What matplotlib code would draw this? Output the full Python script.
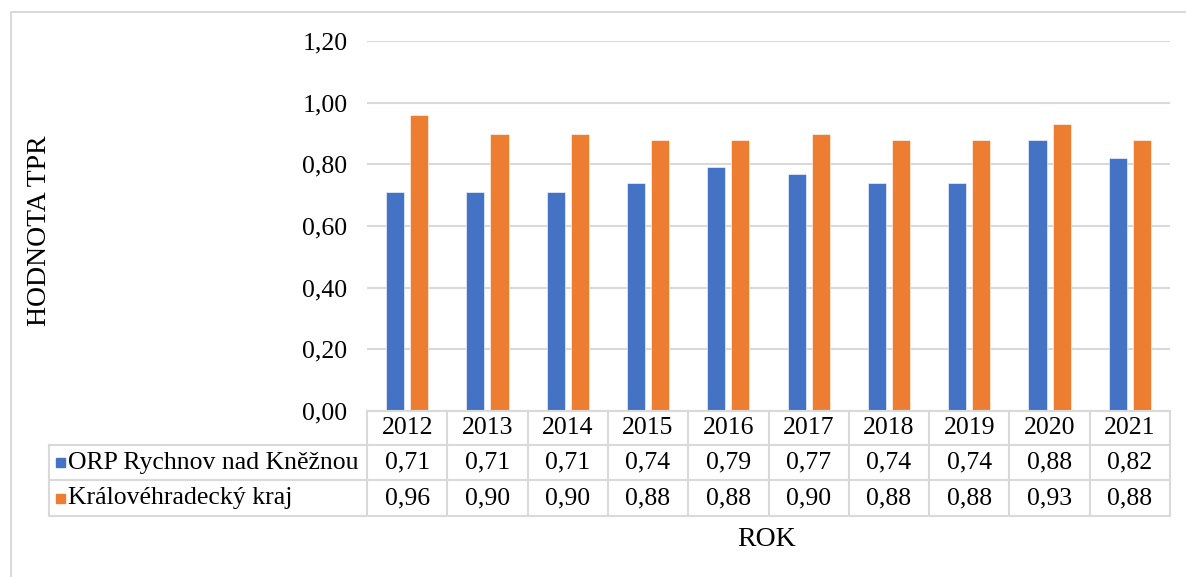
import numpy as np
import matplotlib.pyplot as plt
from matplotlib.lines import Line2D
from matplotlib.patches import Rectangle

# data
years = ['2012', '2013', '2014', '2015', '2016', '2017', '2018', '2019', '2020', '2021']
orp = [0.71, 0.71, 0.71, 0.74, 0.79, 0.77, 0.74, 0.74, 0.88, 0.82]
kraj = [0.96, 0.90, 0.90, 0.88, 0.88, 0.90, 0.88, 0.88, 0.93, 0.88]
series_names = ['ORP Rychnov nad Kněžnou', 'Královéhradecký kraj']
colors = ['#4472C4', '#ED7D31']
yticks = np.arange(0, 1.21, 0.2)

plt.rcParams['font.family'] = ['Liberation Serif', 'DejaVu Serif']

W, H = 1186, 577
fig = plt.figure(figsize=(W / 100, H / 100), dpi=100)


# pixel -> figure fraction
def fx(x):
    return x / W


def fy(y):
    return 1 - y / H


GRID = '#d9d9d9'
FS = 18.5
FS_TITLE = 20
left, right, top, bottom = 367, 1170, 41, 411

ax = fig.add_axes([fx(left), fy(bottom), (right - left) / W, (bottom - top) / H])
x = np.arange(len(years))
w = 0.225
ax.bar(x - 0.15, orp, w, color=colors[0], edgecolor='white', linewidth=0.4)
ax.bar(x + 0.15, kraj, w, color=colors[1], edgecolor='white', linewidth=0.4)
ax.set_xlim(-0.5, len(years) - 0.5)
ax.set_ylim(0, 1.2)
ax.set_yticks(yticks)
ax.set_yticklabels([f'{v:.2f}'.replace('.', ',') for v in yticks], fontsize=FS)
ax.tick_params(axis='y', length=0, pad=14)
ax.set_xticks([])
for s in ax.spines.values():
    s.set_visible(False)
ax.grid(axis='y', color=GRID, lw=1.5)
ax.set_axisbelow(True)


def hline(y, x0, x1):
    fig.add_artist(Line2D([fx(x0), fx(x1)], [fy(y), fy(y)], color=GRID, lw=1.5))


def vline(x, y0, y1):
    fig.add_artist(Line2D([fx(x), fx(x)], [fy(y0), fy(y1)], color=GRID, lw=1.5))


# data table
colw = (right - left) / len(years)
rows = [411, 445, 480, 516]
tab_left = 49
hline(rows[0], left, right)
for r in rows[1:]:
    hline(r, tab_left, right)
vline(tab_left, rows[1], rows[3])
for i in range(len(years) + 1):
    vline(left + i * colw, rows[0], rows[3])

for i, yr in enumerate(years):
    cx = left + (i + 0.5) * colw
    fig.text(fx(cx), fy((rows[0] + rows[1]) / 2), yr, ha='center', va='center', fontsize=FS)
    for j, vals in enumerate([orp, kraj]):
        cy = (rows[j + 1] + rows[j + 2]) / 2
        fig.text(fx(cx), fy(cy), f'{vals[i]:.2f}'.replace('.', ','),
                 ha='center', va='center', fontsize=FS)

for j, name in enumerate(series_names):
    cy = (rows[j + 1] + rows[j + 2]) / 2
    fig.add_artist(Rectangle((fx(56), fy(cy + 4.5)), 9 / W, 9 / H, color=colors[j]))
    fig.text(fx(68), fy(cy), name, ha='left', va='center', fontsize=FS)

# axis titles
fig.text(fx(40), fy(231), 'HODNOTA TPR', rotation=90, ha='center', va='center', fontsize=FS_TITLE)
fig.text(fx(767), fy(539), 'ROK', ha='center', va='center', fontsize=FS_TITLE)

# chart area border
fig.add_artist(Line2D([fx(10.5), fx(10.5), fx(W)], [0, fy(11.5), fy(11.5)], color=GRID, lw=1.5))

fig.savefig('out.png', dpi=100)
